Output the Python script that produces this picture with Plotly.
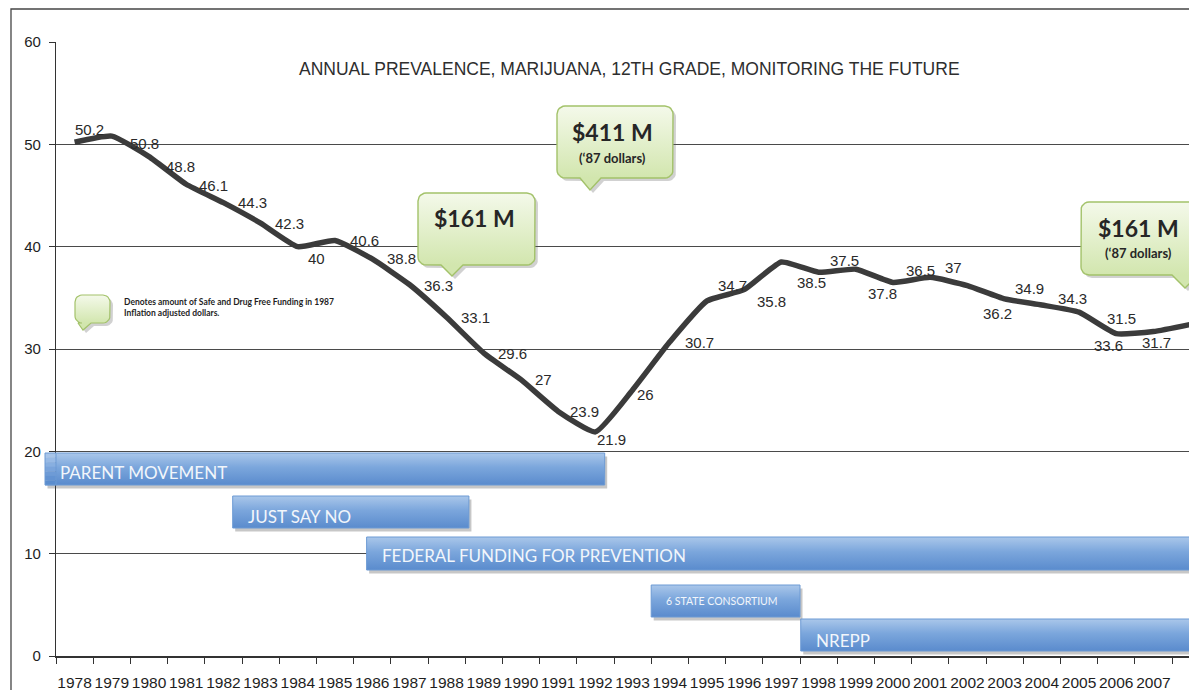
import plotly.graph_objects as go
import math

# ---------------- data ----------------
years = list(range(1978, 2009))
prevalence = [50.2, 50.8, 48.8, 46.1, 44.3, 42.3, 40.0, 40.6, 38.8, 36.3,
              33.1, 29.6, 27.0, 23.9, 21.9, 26.0, 30.7, 34.7, 35.8, 38.5,
              37.5, 37.8, 36.5, 37.0, 36.2, 34.9, 34.3, 33.6, 31.5, 31.7, 32.4]

programs = ["PARENT MOVEMENT", "JUST SAY NO", "FEDERAL FUNDING FOR PREVENTION",
            "6 STATE CONSORTIUM", "NREPP"]
program_start = [1977.2, 1982.25, 1985.85, 1993.5, 1997.52]
program_end = [1992.25, 1988.6, 2009.5, 1997.5, 2009.5]

funding_main = ["$161 M", "$411 M", "$161 M"]
funding_sub = ["", "(\u201887 dollars)", "(\u201887 dollars)"]

title_text = "ANNUAL PREVALENCE, MARIJUANA, 12TH GRADE, MONITORING THE FUTURE"
note_text = "Denotes amount of Safe and Drug Free Funding in 1987<br>Inflation adjusted dollars."

# ---------------- layout geometry ----------------
# target positions are given in page pixels; the page body has an 8px margin
OFF = 8
PAGE_W, PAGE_H = 1197, 698
W, H = PAGE_W - 2 * OFF, PAGE_H - 2 * OFF
PLOT_L, PLOT_T, PLOT_B = 56, 42, 656          # page pixels
ML, MT, MR = PLOT_L - OFF, PLOT_T - OFF, 0
MB = H - (PLOT_B - OFF)
PW, PH = W - ML - MR, PLOT_B - PLOT_T
PPX = 37.2                      # pixels per year
X_MIN = 1977.5
X_MAX = X_MIN + PW / PPX
Y_MIN, Y_MAX = 0, 60
PPY = PH / (Y_MAX - Y_MIN)


def px2x(px):
    return X_MIN + (px - PLOT_L) / PPX


def py2y(py):
    return Y_MIN + (PLOT_B - py) / PPY


def px2paper(px):
    return (px - PLOT_L) / PW


def py2paper(py):
    return (PLOT_B - py) / PH


# label offsets in pixels (dx right, dy down)
label_offsets = [(15, -13), (33, 7), (31, 10), (27, 1), (29, 0), (29, 0), (19, 12),
                 (29, 0), (29, 0), (29, 1), (29, 0), (29, 0), (22, 0), (26, 0),
                 (16, 8), (13, 5), (30, 1), (25, -15), (27, 12), (30, 20),
                 (26, -12), (27, 24), (27, -12), (23, -10), (30, 28), (25, -10),
                 (31, -7), (29, 33), (5, -15), (3, 11), (-4, -9)]

# program bar rows (top, bottom in page px), label font sizes
bar_rows = [(453, 485), (496, 528), (537, 570), (585, 617), (619, 651)]
bar_font = [17, 17, 17, 10.5, 17]
bar_text_dy = [3, 4, 2, 0, 5]

# callout boxes: L, T, R, B, tail base x1, x2, tip x, tip y (page px)
callout_boxes = [(418, 193, 535, 265, 441, 463, 452, 276),
                 (557, 106, 673, 178, 580, 601, 590, 190),
                 (1081, 202, 1205, 275, 1172, 1198, 1185, 288)]
callout_text_pos = [((474, 218), None), ((612, 132), (612, 158)), ((1138, 228), (1138, 253))]
note_box = (75, 295, 110, 323, 78, 91, 83, 330)

fig = go.Figure()


def bubble_points(L, T, R, B, t1, t2, tx, ty, r=8, n=6):
    pts = []

    def arc(cx, cy, a0, a1):
        for k in range(n + 1):
            a = math.radians(a0 + (a1 - a0) * k / n)
            pts.append((cx + r * math.cos(a), cy + r * math.sin(a)))
    arc(R - r, T + r, -90, 0)
    arc(R - r, B - r, 0, 90)
    pts.append((t2, B))
    pts.append((tx, ty))
    pts.append((t1, B))
    arc(L + r, B - r, 90, 180)
    arc(L + r, T + r, 180, 270)
    pts.append(pts[0])
    return pts


def add_bubble(box, r=8, lw=1.4):
    L, T, R, B, t1, t2, tx, ty = box
    sh = bubble_points(L + 3, T + 3, R + 3, B + 3, t1 + 3, t2 + 3, tx + 3, ty + 3, r)
    fig.add_trace(go.Scatter(
        x=[px2x(p[0]) for p in sh], y=[py2y(p[1]) for p in sh],
        mode="lines", fill="toself", fillcolor="rgba(90,90,90,0.28)",
        line=dict(width=0), hoverinfo="skip", showlegend=False))
    pts = bubble_points(L, T, R, B, t1, t2, tx, ty, r)
    fig.add_trace(go.Scatter(
        x=[px2x(p[0]) for p in pts], y=[py2y(p[1]) for p in pts],
        mode="lines", fill="toself",
        fillgradient=dict(type="vertical", start=py2y(B), stop=py2y(T),
                          colorscale=[[0, "#d2e6ae"], [1, "#f4f9ea"]]),
        line=dict(color="#a3c26a", width=lw), hoverinfo="skip", showlegend=False))


# ---------------- program bars ----------------
for i, name in enumerate(programs):
    top, bot = bar_rows[i]
    y0, y1 = py2y(bot), py2y(top)
    s, e = program_start[i], program_end[i]
    dx, dy = 2.5 / PPX, 3.5 / PPY
    fig.add_trace(go.Scatter(
        x=[s + dx, e + dx, e + dx, s + dx, s + dx],
        y=[y0 - dy, y0 - dy, y1 - dy, y1 - dy, y0 - dy],
        mode="lines", fill="toself", fillcolor="rgba(70,70,70,0.30)",
        line=dict(width=0), hoverinfo="skip", showlegend=False))
    fig.add_trace(go.Scatter(
        x=[s, e, e, s, s], y=[y0, y0, y1, y1, y0],
        mode="lines", fill="toself",
        fillgradient=dict(type="vertical", start=y0, stop=y1,
                          colorscale=[[0, "#5a8bcd"], [0.55, "#7ba6dc"], [1, "#aac7ea"]]),
        line=dict(color="#6c9ad4", width=1), hoverinfo="skip", showlegend=False))
    fig.add_annotation(
        x=max(s, X_MIN) + (13 - max(0, (X_MIN - s) * PPX)) / PPX,
        y=(y0 + y1) / 2, yshift=-bar_text_dy[i],
        text=name, showarrow=False, xanchor="left", yanchor="middle",
        font=dict(family="Lato, Open Sans, sans-serif", size=bar_font[i], color="#f2f6fb"))

# overhang of first bar left of the plot area (paper coords, not clipped)
top, bot = bar_rows[0]
strip_cols = ["#a8c5e9", "#98bae5", "#88afe0", "#7aa4db", "#6e9bd6", "#6393d2", "#5b8dce"]
n_strips = len(strip_cols)
hgt = (bot - top) / n_strips
fig.add_shape(type="rect", xref="paper", yref="paper",
              x0=px2paper(45 + 2.5), x1=px2paper(PLOT_L), y0=py2paper(bot + 3.5), y1=py2paper(top + 3.5),
              fillcolor="rgba(70,70,70,0.30)", line=dict(width=0), layer="above")
for k, c in enumerate(strip_cols):
    fig.add_shape(type="rect", xref="paper", yref="paper",
                  x0=px2paper(45), x1=px2paper(PLOT_L) + 0.0005,
                  y0=py2paper(top + (k + 1) * hgt + 0.3), y1=py2paper(top + k * hgt),
                  fillcolor=c, line=dict(width=0), layer="above")
fig.add_shape(type="rect", xref="paper", yref="paper",
              x0=px2paper(45), x1=px2paper(PLOT_L), y0=py2paper(bot), y1=py2paper(top),
              fillcolor="rgba(0,0,0,0)", line=dict(color="#6c9ad4", width=1), layer="above")

# ---------------- prevalence line ----------------
fig.add_trace(go.Scatter(
    x=years, y=prevalence, mode="lines",
    line=dict(color="#3b3b3b", width=5.5, shape="spline", smoothing=0.45),
    hoverinfo="skip", showlegend=False))

# data labels
for yr, v, (dx, dy) in zip(years, prevalence, label_offsets):
    txt = ("%.1f" % v).rstrip("0").rstrip(".")
    fig.add_annotation(x=yr, y=v, xshift=dx, yshift=-dy, text=txt, showarrow=False,
                       font=dict(family="Arial, Liberation Sans, sans-serif", size=15, color="#2a2a2a"))

# ---------------- callouts ----------------
for i, box in enumerate(callout_boxes):
    add_bubble(box)
    (mx, my), sub = callout_text_pos[i]
    fig.add_annotation(x=px2x(mx), y=py2y(my), text="<b>%s</b>" % funding_main[i], showarrow=False,
                       font=dict(family="Lato, Open Sans, sans-serif", size=23, color="#262626"))
    if sub is not None:
        fig.add_annotation(x=px2x(sub[0]), y=py2y(sub[1]), text="<b>%s</b>" % funding_sub[i],
                           showarrow=False,
                           font=dict(family="Lato, Open Sans, sans-serif", size=13, color="#262626"))

add_bubble(note_box, r=7, lw=1.2)
fig.add_annotation(x=px2x(122), y=py2y(307), text="<b>%s</b>" % note_text, showarrow=False,
                   xanchor="left", yanchor="middle", align="left",
                   font=dict(family="Lato, Open Sans, sans-serif", size=8.5, color="#1e1e1e"))

# title
fig.add_annotation(xref="paper", yref="paper", x=px2paper(629), y=py2paper(69),
                   text=title_text, showarrow=False, xanchor="center", yanchor="middle",
                   font=dict(family="Arial, Liberation Sans, sans-serif", size=17.5, color="#2e2e2e"))

# outer chart border: only the left and top edges are visible in the picture
bx, by, bxr, byb = px2paper(11), py2paper(9), 1.01, py2paper(PAGE_H - OFF)
fig.add_shape(type="path", xref="paper", yref="paper",
              path="M %.5f,%.5f L %.5f,%.5f L %.5f,%.5f" % (bx, byb, bx, by, bxr, by),
              line=dict(color="#454545", width=1.3), layer="above")

fig.update_layout(
    width=W, height=H, autosize=False,
    margin=dict(l=ML, r=MR, t=MT, b=MB, pad=0),
    paper_bgcolor="white", plot_bgcolor="white",
    showlegend=False,
    xaxis=dict(range=[X_MIN, X_MAX], tickmode="array", tickvals=years,
               ticktext=[str(y) for y in years], ticks="", showgrid=False,
               showline=True, linecolor="#333333", linewidth=1.5, zeroline=False,
               tickfont=dict(family="Arial, Liberation Sans, sans-serif", size=15.5, color="#1e1e1e"),
               ticklabelstandoff=12,
               minor=dict(tickmode="linear", tick0=1977.5, dtick=1, ticks="outside",
                          ticklen=6, tickcolor="#333333", tickwidth=1.3, showgrid=False),
               layer="below traces", fixedrange=True),
    yaxis=dict(range=[Y_MIN, Y_MAX], tickmode="linear", tick0=0, dtick=10,
               showgrid=True, gridcolor="#4a4a4a", gridwidth=1,
               showline=True, linecolor="#333333", linewidth=1.3, zeroline=False,
               ticks="outside", ticklen=6, tickcolor="#333333", tickwidth=1.3,
               tickfont=dict(family="Arial, Liberation Sans, sans-serif", size=15, color="#1e1e1e"),
               ticklabelstandoff=5, layer="below traces", fixedrange=True),
)

fig.write_html("out.html")
